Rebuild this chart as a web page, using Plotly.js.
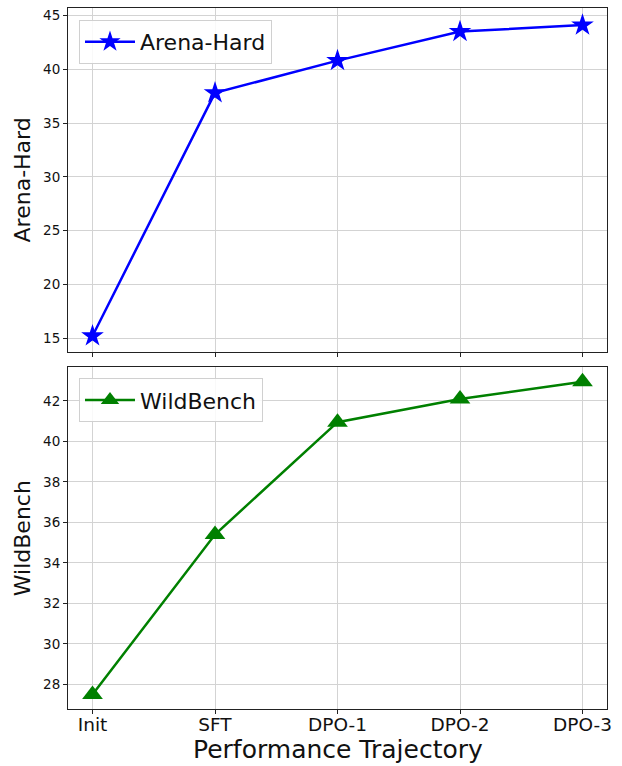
<!DOCTYPE html>
<html>
<head>
<meta charset="utf-8">
<script src="https://cdn.plot.ly/plotly-3.0.1.min.js"></script>
<style>html,body{margin:0;padding:0;background:#fff;}#chart{width:622px;height:766px;}</style>
</head>
<body>
<div id="chart"></div>
<script>
const categories = ["Init", "SFT", "DPO-1", "DPO-2", "DPO-3"];
const arenaHard = [15.2, 37.8, 40.8, 43.5, 44.1];
const wildBench = [27.5, 35.4, 40.95, 42.1, 42.95];
const arenaTicks = [15, 20, 25, 30, 35, 40, 45];
const wildTicks = [28, 30, 32, 34, 36, 38, 40, 42];

const FONT = "DejaVu Sans, sans-serif";
const xIdx = categories.map((_, i) => i);

const traces = [
  {
    x: xIdx, y: arenaHard, xaxis: "x", yaxis: "y", name: "Arena-Hard",
    mode: "lines+markers", line: {color: "blue", width: 2.5},
    marker: {symbol: "star", size: 17, color: "blue"}, legend: "legend"
  },
  {
    x: xIdx, y: wildBench, xaxis: "x2", yaxis: "y2", name: "WildBench",
    mode: "lines+markers", line: {color: "green", width: 2.5},
    marker: {symbol: "triangle-up", size: 18, color: "green"}, legend: "legend2"
  }
];

const axisCommon = {
  showline: true, mirror: true, linecolor: "#222", linewidth: 1,
  ticks: "outside", ticklen: 4, tickcolor: "#222",
  showgrid: true, gridcolor: "#d3d3d3", gridwidth: 1,
  zeroline: false, tickfont: {family: FONT, size: 13.5, color: "#111"}
};

const legendCommon = {
  xanchor: "left", yanchor: "top",
  bgcolor: "rgba(255,255,255,0.85)", bordercolor: "#d0d0d0", borderwidth: 1,
  font: {family: FONT, size: 22, color: "#111"}, itemwidth: 50
};

const layout = {
  width: 622, height: 766,
  margin: {l: 68, r: 15, t: 8, b: 57},
  paper_bgcolor: "#fff", plot_bgcolor: "#fff",
  font: {family: FONT, color: "#111"},
  xaxis: Object.assign({}, axisCommon, {
    domain: [0, 1], anchor: "y", range: [-0.2, 4.2],
    tickvals: xIdx, ticktext: categories, showticklabels: false
  }),
  yaxis: Object.assign({}, axisCommon, {
    domain: [0.5097, 1], anchor: "x", range: [13.74, 45.69],
    tickvals: arenaTicks,
    title: {text: "Arena-Hard", font: {family: FONT, size: 22, color: "#111"}, standoff: 6}
  }),
  xaxis2: Object.assign({}, axisCommon, {
    domain: [0, 1], anchor: "y2", range: [-0.2, 4.2],
    tickvals: xIdx, ticktext: categories,
    tickfont: {family: FONT, size: 18.5, color: "#111"},
    ticklabelstandoff: -5
  }),
  yaxis2: Object.assign({}, axisCommon, {
    domain: [0, 0.4874], anchor: "x2", range: [26.78, 43.66],
    tickvals: wildTicks,
    title: {text: "WildBench", font: {family: FONT, size: 22, color: "#111"}, standoff: 6}
  }),
  legend: Object.assign({}, legendCommon, {x: 0.0204, y: 0.983}),
  legend2: Object.assign({}, legendCommon, {x: 0.0204, y: 0.472}),
  annotations: [{
    text: "Performance Trajectory", showarrow: false, borderpad: 0,
    xref: "paper", yref: "paper", x: 0.5, xanchor: "center",
    y: (709 - 749) / 701, yanchor: "middle",
    font: {family: FONT, size: 25, color: "#111"}
  }],
  showlegend: true
};

Plotly.newPlot("chart", traces, layout, {displayModeBar: false, staticPlot: true});
</script>
</body>
</html>
